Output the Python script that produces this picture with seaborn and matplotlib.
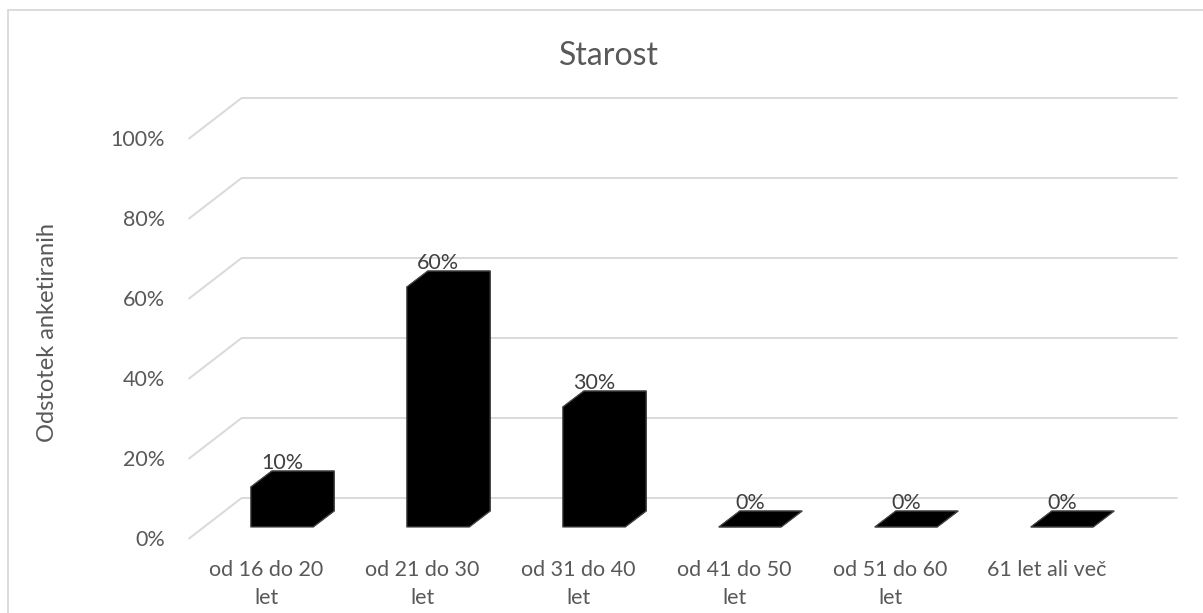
import matplotlib
matplotlib.use("Agg")
import matplotlib.pyplot as plt
import matplotlib.transforms as mtransforms
from matplotlib.patches import Polygon, Rectangle
import pandas as pd
import seaborn as sns

# ---- data ----
categories = ["od 16 do 20\nlet", "od 21 do 30\nlet", "od 31 do 40\nlet",
              "od 41 do 50\nlet", "od 51 do 60\nlet", "61 let ali več"]
shares = [10, 60, 30, 0, 0, 0]
y_ticks = [0, 20, 40, 60, 80, 100]
y_tick_labels = ["0%", "20%", "40%", "60%", "80%", "100%"]
title = "Starost"
y_label = "Odstotek anketiranih"

# ---- style ----
sns.set_theme(style="white")
plt.rcParams["font.family"] = ["Lato", "DejaVu Sans"]

W, H, DPI = 1203, 613, 100
TEXT = "#595959"
LABEL = "#404040"
GRID = "#d9d9d9"
EDGE = "#4a4a4a"

fig = plt.figure(figsize=(W / DPI, H / DPI), dpi=DPI)
fig.patch.set_facecolor("white")

# the axes is the front plane of the columns
ax = fig.add_axes([204 / W, 1 - 527 / H, 936 / W, 400 / H])
df = pd.DataFrame({"group": categories, "share": shares})
sns.barplot(data=df, x="group", y="share", color="black", saturation=1,
            width=0.4, edgecolor="black", linewidth=0.5, ax=ax, zorder=3)
ax.set_xlim(-0.5, len(categories) - 0.5)
ax.set_ylim(0, 100)
ax.axis("off")

# pixel -> data scale of the front plane
p0 = ax.transData.transform((0, 0))
p1 = ax.transData.transform((1, 1))
sx, sy = p1[0] - p0[0], p1[1] - p0[1]


def shift(dx, dy):
    """Data transform moved by (dx, dy) pixels."""
    return ax.transData + mtransforms.ScaledTranslation(dx / DPI, dy / DPI, fig.dpi_scale_trans)


# depth offsets (pixels): floor front edge, column back face, back wall
FLOOR = (-15.5, -12.0)
DEPTH = (21.0, 16.0)
WALL = (37.6, 29.0)

x_left, x_right = -0.5, len(categories) - 0.5

# back-wall gridlines with their slanted side-wall part
for v in y_ticks:
    xs = [x_left + FLOOR[0] / sx, x_left + WALL[0] / sx, x_right + WALL[0] / sx]
    ys = [v + FLOOR[1] / sy, v + WALL[1] / sy, v + WALL[1] / sy]
    ax.plot(xs, ys, color=GRID, lw=1.4, clip_on=False, zorder=0,
            solid_capstyle="butt")

# top and side faces of every column, over a black silhouette so no seams show
ddx, ddy = DEPTH[0] / sx, DEPTH[1] / sy
for bar in ax.patches[:len(categories)]:
    x0 = bar.get_x()
    x1 = x0 + bar.get_width()
    h = bar.get_height()
    outline = [(x0, 0), (x0, h), (x0 + ddx, h + ddy), (x1 + ddx, h + ddy),
               (x1 + ddx, ddy), (x1, 0)]
    ax.add_patch(Polygon(outline, closed=True, facecolor="black", edgecolor="none",
                         clip_on=False, zorder=2))
    top = [(x0, h), (x1, h), (x1 + ddx, h + ddy), (x0 + ddx, h + ddy)]
    ax.add_patch(Polygon(top, closed=True, facecolor="black", edgecolor="black",
                         lw=0.5, clip_on=False, zorder=3))
    if h > 0:
        side = [(x1, 0), (x1 + ddx, ddy), (x1 + ddx, h + ddy), (x1, h)]
        ax.add_patch(Polygon(side, closed=True, facecolor="black", edgecolor="black",
                             lw=0.5, clip_on=False, zorder=3))
    ax.add_patch(Polygon(outline, closed=True, fill=False, edgecolor=EDGE,
                         lw=0.9, clip_on=False, zorder=4))

# value labels above the columns
for i, v in enumerate(shares):
    ax.text(i, v, f"{v}%", transform=shift(0, 18), ha="center", va="baseline",
            fontsize=15.5, color=LABEL, clip_on=False, zorder=5)

# value axis labels along the floor front edge
for v, lab in zip(y_ticks, y_tick_labels):
    ax.text(x_left, v, lab, transform=shift(-39, -13), ha="right", va="center",
            fontsize=15.5, color=TEXT, clip_on=False)

# category labels
for i, lab in enumerate(categories):
    ax.text(i, 0, lab, transform=shift(FLOOR[0], -33), ha="center", va="top",
            fontsize=15.5, color=TEXT, linespacing=1.5, clip_on=False)

fig.text(48 / W, 1 - 332 / H, y_label, rotation=90, ha="center", va="center",
         fontsize=17, color=TEXT)
fig.text(609 / W, 1 - 65 / H, title, ha="center", va="baseline",
         fontsize=23, color=TEXT)

# chart area frame
fig.add_artist(Rectangle((8 / W, -0.2), 1.2, 1.2 - 10 / H, transform=fig.transFigure,
                         fill=False, edgecolor=GRID, lw=1.3))

fig.savefig("out.png", dpi=DPI, facecolor="white")
